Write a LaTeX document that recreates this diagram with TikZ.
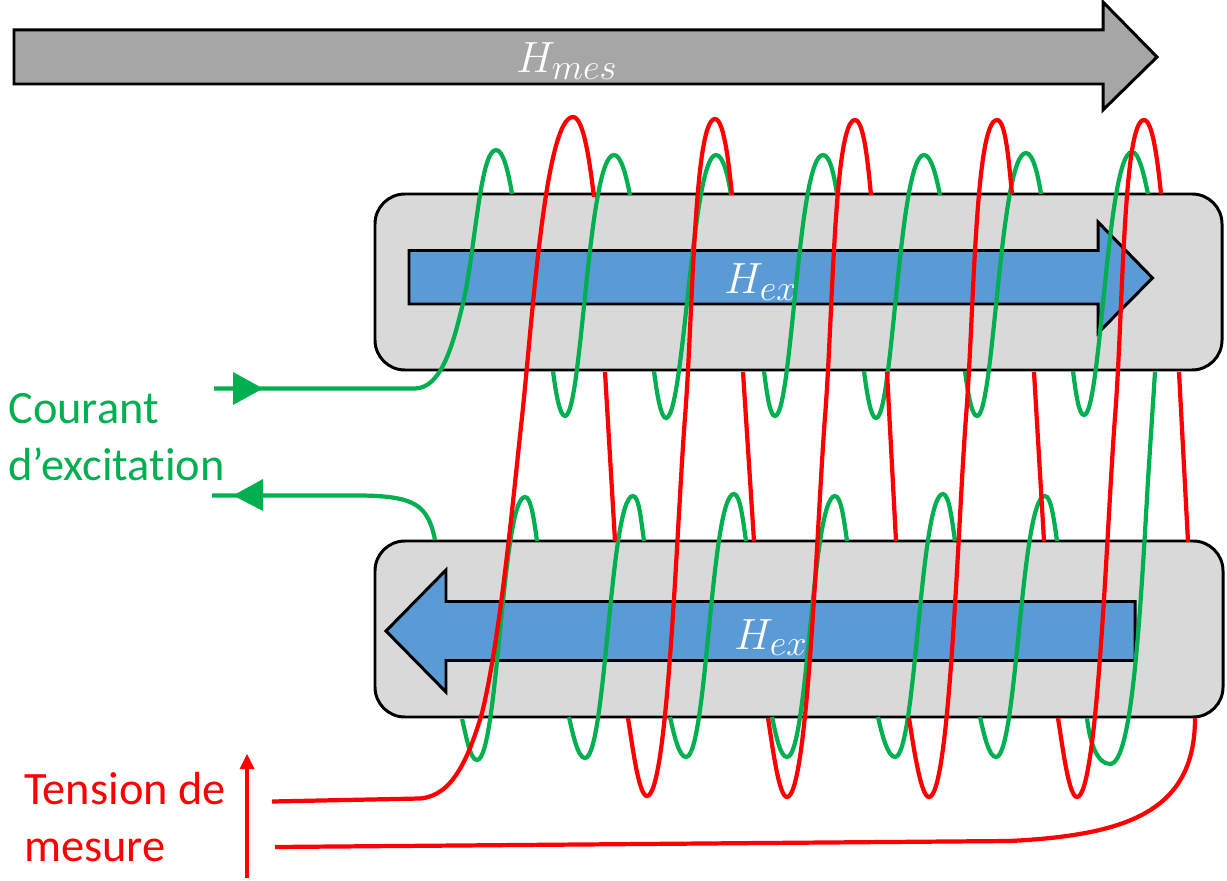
\documentclass[tikz,border=0pt]{standalone}
\usepackage{amsmath}
\usepackage{fontspec}
\setmainfont[Ligatures=NoCommon]{Carlito}
\DeclareMathSizes{27}{27}{21}{16}
\definecolor{barblue}{HTML}{5B9BD5}
\definecolor{coregray}{HTML}{D9D9D9}
\definecolor{mesgray}{HTML}{A6A6A6}
\definecolor{exgreen}{HTML}{00B050}
\tikzset{
	corebox/.style={draw=black,line width=1.7pt,fill=coregray,rounded corners=17pt},
	fieldarrow/.style={draw=black,line width=1.7pt,line join=miter,miter limit=10},
	greenwire/.style={exgreen,line width=2.4pt},
	redwire/.style={red,line width=2.4pt},
	fieldlabel/.style={text=white,inner sep=0pt,anchor=base west,font=\fontsize{27}{30}\selectfont},
	sidelabel/.style={inner sep=0pt,anchor=base west,font=\fontsize{26.4}{30}\selectfont},
}
\begin{document}
\begin{tikzpicture}[x=0.02cm,y=-0.02cm]
	\useasboundingbox (0,0) rectangle (1227,881);
	% measured field on top
	\draw[fieldarrow,fill=mesgray] (14,30) -- (1103,30) -- (1103,2) -- (1157,57) -- (1103,110) -- (1103,84) -- (14,84) -- cycle;
	\node[fieldlabel] (hmes) at (516,73) {$H_{mes}$};
	% the two cores and their excitation fields
	\draw[corebox] (375,194) rectangle (1222,370);
	\draw[corebox] (375,541) rectangle (1223,717);
	\draw[fieldarrow,fill=barblue] (409,250.5) -- (1098,250.5) -- (1098,222) -- (1152.5,278) -- (1098,333) -- (1098,304) -- (409,304) -- cycle;
	\draw[fieldarrow,fill=barblue] (1135,601.5) -- (446,601.5) -- (446,570) -- (386,631) -- (446,692) -- (446,660.5) -- (1135,660.5) -- cycle;
	\node[fieldlabel] (hextop) at (724,294) {$H_{ex}$};
	\node[fieldlabel] (hexbot) at (734,649) {$H_{ex}$};
	% excitation winding, upper core
	\draw[greenwire] (214,388.5) -- (415,388.5) .. controls (440,388) and (452,350) .. (463,303) .. controls (475,253) and (480,150) .. (496,150) .. controls (503,150) and (508,170) .. (512,194);
	\draw[greenwire] (553,371) .. controls (556,395) and (560,416) .. (565,416) .. controls (582,416) and (588,155) .. (614,155) .. controls (621,155) and (626,175) .. (630,195);
	\draw[greenwire] (654,371) .. controls (657,395) and (661,418) .. (666,418) .. controls (684,418) and (692,155) .. (716,155) .. controls (723,155) and (728,175) .. (731,195);
	\draw[greenwire] (764,371) .. controls (767,395) and (770,416) .. (775,416) .. controls (792,416) and (798,155) .. (823,155) .. controls (830,155) and (834,175) .. (837,194);
	\draw[greenwire] (864,371) .. controls (867,395) and (871,418) .. (876,418) .. controls (893,418) and (899,155) .. (924,155) .. controls (931,155) and (936,175) .. (940,195);
	\draw[greenwire] (965,371) .. controls (968,395) and (972,416) .. (977,416) .. controls (994,416) and (1000,153) .. (1026,153) .. controls (1033,153) and (1038,175) .. (1041,194);
	\draw[greenwire] (1073,371) .. controls (1076,395) and (1079,415) .. (1084,415) .. controls (1101,415) and (1107,152) .. (1132,152) .. controls (1139,152) and (1144,175) .. (1148,194);
	% excitation winding, link and lower core
	\draw[greenwire] (1155,372) -- (1148,480) .. controls (1140,620) and (1132,764) .. (1110,764) .. controls (1098,764) and (1090,745) .. (1087,718);
	\draw[greenwire] (212,495.5) -- (360,495.5) .. controls (415,496) and (428,505) .. (435,540);
	\draw[greenwire] (462,719) .. controls (466,735) and (470,760) .. (477,760) .. controls (498,760) and (502,497) .. (525,497) .. controls (531,497) and (534,520) .. (537,541);
	\draw[greenwire] (569,717) .. controls (573,735) and (578,758) .. (585,758) .. controls (606,758) and (610,496) .. (633,496) .. controls (639,496) and (641,520) .. (644,541);
	\draw[greenwire] (670,717) .. controls (674,735) and (679,757) .. (686,757) .. controls (707,757) and (711,494) .. (734,494) .. controls (740,494) and (743,520) .. (746,541);
	\draw[greenwire] (772,717) .. controls (776,735) and (780,757) .. (787,757) .. controls (808,757) and (812,496) .. (835,496) .. controls (841,496) and (844,520) .. (847,541);
	\draw[greenwire] (878,717) .. controls (882,735) and (888,757) .. (895,757) .. controls (916,757) and (920,494) .. (943,494) .. controls (949,494) and (952,520) .. (955,541);
	\draw[greenwire] (980,717) .. controls (984,735) and (989,757) .. (996,757) .. controls (1017,757) and (1021,496) .. (1045,496) .. controls (1051,496) and (1054,520) .. (1057,541);
	% current arrowheads and label
	\fill[exgreen] (233,372) -- (263,388.5) -- (233,405) -- cycle;
	\fill[exgreen] (263,479) -- (233,495.5) -- (263,511) -- cycle;
	\node[sidelabel,text=exgreen] (courant) at (8,424) {Courant};
	\node[sidelabel,text=exgreen] (excitation) at (8,480) {d’excitation};
	% measuring winding, straight back strands
	\draw[redwire] (605,372) -- (615,541);
	\draw[redwire] (743,372) -- (754,541);
	\draw[redwire] (887,372) -- (896,541);
	\draw[redwire] (1034,372) -- (1044,541);
	\draw[redwire] (1179,372) -- (1188,542);
	% measuring winding, long front strands
	\draw[redwire] (272,801.5) -- (420,798.5) .. controls (452,796) and (468,760) .. (482,713) .. controls (500,640) and (513,500) .. (522,417) .. controls (532,325) and (545,117) .. (573,117) .. controls (584,117) and (590,165) .. (594,197);
	\draw[redwire] (628,718) .. controls (633,750) and (639,796) .. (647,796) .. controls (668,796) and (677,520) .. (685,417) .. controls (693,315) and (694,119) .. (715,119) .. controls (724,119) and (729,165) .. (732,195);
	\draw[redwire] (768,718) .. controls (773,750) and (779,797) .. (787,797) .. controls (808,797) and (817,520) .. (825,417) .. controls (833,315) and (834,120) .. (855,120) .. controls (864,120) and (868,165) .. (871,195);
	\draw[redwire] (909,718) .. controls (914,750) and (921,797) .. (929,797) .. controls (950,797) and (958,520) .. (966,417) .. controls (974,315) and (975,120) .. (997,120) .. controls (1006,120) and (1009,165) .. (1012,194);
	\draw[redwire] (1058,718) .. controls (1063,750) and (1069,797) .. (1077,797) .. controls (1098,797) and (1107,520) .. (1115,417) .. controls (1123,315) and (1123,120) .. (1144,120) .. controls (1153,120) and (1158,165) .. (1161,194);
	\draw[redwire] (275,847) -- (1010,841) .. controls (1130,835) and (1195,810) .. (1195,718);
	% voltage arrow and label
	\draw[redwire,line width=2.6pt] (247,878) -- (247,766);
	\fill[red] (239.5,769) -- (247,754) -- (254.5,769) -- cycle;
	\node[sidelabel,text=red] (tension) at (24,804) {Tension de};
	\node[sidelabel,text=red] (mesure) at (24,861) {mesure};
\end{tikzpicture}
\end{document}
